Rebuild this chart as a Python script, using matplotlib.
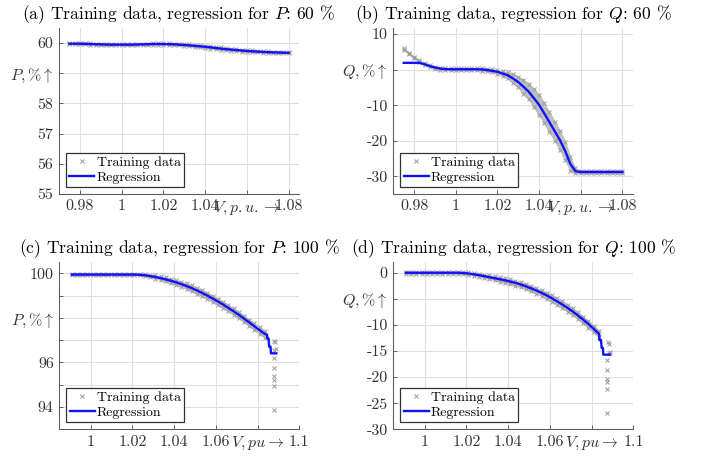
import matplotlib
matplotlib.use("Agg")
import matplotlib.pyplot as plt

plt.rcParams['font.family'] = 'serif'
plt.rcParams['font.serif'] = ['cmr10']
plt.rcParams['mathtext.fontset'] = 'cm'
plt.rcParams['axes.unicode_minus'] = False

# ---- (a) P, 60 % ----
v_ab = [0.975, 0.9775, 0.98, 0.9825, 0.985, 0.9875, 0.99, 0.9925, 0.995, 0.9975,
        1.0, 1.0025, 1.005, 1.0075, 1.01, 1.0125, 1.015, 1.0175, 1.02, 1.0225,
        1.025, 1.0275, 1.03, 1.0325, 1.035, 1.0375, 1.04, 1.0425, 1.045, 1.0475,
        1.05, 1.0525, 1.055, 1.0575, 1.06, 1.0625, 1.065, 1.0675, 1.07, 1.0725,
        1.075, 1.0775, 1.08]
p60_reg = [59.98, 59.98, 59.98, 59.975, 59.97, 59.965, 59.96, 59.955, 59.95, 59.95,
           59.95, 59.95, 59.95, 59.955, 59.96, 59.965, 59.97, 59.97, 59.97, 59.965,
           59.96, 59.95, 59.94, 59.925, 59.91, 59.895, 59.88, 59.86, 59.84, 59.82,
           59.80, 59.785, 59.77, 59.755, 59.74, 59.73, 59.72, 59.71, 59.70, 59.695,
           59.69, 59.685, 59.68]
p60_hi = [59.99, 60.0, 60.0, 59.995, 59.99, 59.985, 59.98, 59.975, 59.97, 59.97,
          59.97, 59.97, 59.97, 59.975, 59.98, 59.985, 59.99, 59.99, 59.99, 59.99,
          59.985, 59.98, 59.97, 59.96, 59.95, 59.935, 59.92, 59.90, 59.88, 59.86,
          59.84, 59.82, 59.80, 59.785, 59.77, 59.76, 59.75, 59.74, 59.73, 59.72,
          59.71, 59.70, 59.695]
p60_lo = [59.965, 59.965, 59.96, 59.955, 59.95, 59.945, 59.94, 59.935, 59.93, 59.93,
          59.93, 59.93, 59.93, 59.935, 59.94, 59.945, 59.95, 59.95, 59.95, 59.945,
          59.94, 59.93, 59.915, 59.895, 59.875, 59.855, 59.84, 59.82, 59.80, 59.78,
          59.765, 59.75, 59.735, 59.72, 59.71, 59.70, 59.69, 59.685, 59.68, 59.675,
          59.67, 59.665, 59.66]

# ---- (b) Q, 60 % ----
q60_reg = [1.9, 1.9, 1.9, 1.9, 1.5, 1.0, 0.6, 0.3, 0.15, 0.1,
           0.1, 0.1, 0.1, 0.1, 0.1, 0.05, -0.1, -0.35, -0.6, -1.1,
           -1.6, -2.5, -3.5, -4.8, -6.2, -8.0, -9.9, -12.3, -14.8, -17.3,
           -19.8, -22.8, -26.5, -28.6, -28.8, -28.8, -28.8, -28.8, -28.8, -28.8,
           -28.8, -28.8, -28.8]
q60_hi = [6.0, 4.8, 3.6, 2.6, 1.8, 1.2, 0.8, 0.5, 0.4, 0.35,
          0.35, 0.35, 0.35, 0.35, 0.35, 0.35, 0.25, 0.1, -0.2, -0.4,
          -0.8, -1.2, -2.0, -2.8, -4.0, -5.4, -7.1, -9.5, -12.0, -14.6,
          -17.2, -20.3, -24.5, -27.8, -28.4, -28.4, -28.4, -28.4, -28.4, -28.4,
          -28.4, -28.4, -28.4]
q60_lo = [5.6, 4.4, 3.2, 2.2, 1.3, 0.8, 0.3, 0.0, -0.15, -0.2,
          -0.2, -0.2, -0.2, -0.2, -0.2, -0.3, -0.5, -0.8, -1.1, -1.8,
          -2.5, -3.8, -5.0, -6.8, -8.4, -10.6, -12.7, -15.1, -17.6, -20.0,
          -22.6, -25.4, -28.4, -29.2, -29.2, -29.2, -29.2, -29.2, -29.2, -29.2,
          -29.2, -29.2, -29.2]

# ---- (c), (d) 100 % ----
v_cd = [0.991, 0.9935, 0.996, 0.9985, 1.001, 1.0035, 1.006, 1.0085, 1.011, 1.0135,
        1.016, 1.0185, 1.021, 1.0235, 1.026, 1.0285, 1.031, 1.0335, 1.036, 1.0385,
        1.041, 1.0435, 1.046, 1.0485, 1.051, 1.0535, 1.056, 1.0585, 1.061, 1.0635,
        1.066, 1.0685, 1.071, 1.0735, 1.076, 1.0785, 1.081, 1.0835]
p100_reg = [99.95, 99.95, 99.95, 99.95, 99.95, 99.95, 99.95, 99.95, 99.95, 99.95,
            99.95, 99.95, 99.95, 99.94, 99.92, 99.88, 99.84, 99.79, 99.73, 99.67,
            99.60, 99.52, 99.43, 99.34, 99.23, 99.12, 99.00, 98.87, 98.74, 98.60,
            98.45, 98.30, 98.14, 97.97, 97.80, 97.62, 97.45, 97.28]
p100_hi = [99.98, 99.98, 99.98, 99.98, 99.98, 99.98, 99.98, 99.98, 99.98, 99.98,
           99.98, 99.98, 99.98, 99.98, 99.97, 99.94, 99.91, 99.87, 99.82, 99.77,
           99.70, 99.63, 99.55, 99.46, 99.36, 99.25, 99.13, 99.00, 98.87, 98.73,
           98.58, 98.43, 98.27, 98.10, 97.93, 97.76, 97.58, 97.42]
p100_lo = [99.92, 99.92, 99.92, 99.92, 99.92, 99.92, 99.92, 99.92, 99.92, 99.92,
           99.92, 99.92, 99.92, 99.91, 99.88, 99.83, 99.77, 99.71, 99.64, 99.57,
           99.49, 99.40, 99.30, 99.20, 99.09, 98.97, 98.85, 98.72, 98.59, 98.45,
           98.30, 98.15, 97.99, 97.82, 97.65, 97.47, 97.30, 97.12]
v_c_tail = [1.0835, 1.0845, 1.0847, 1.0853, 1.0855, 1.0862, 1.0864, 1.089]
p100_tail = [97.28, 97.25, 97.07, 97.07, 96.71, 96.71, 96.41, 96.41]
v_c_out = [1.0877, 1.0885, 1.0889, 1.0880, 1.0877, 1.0877, 1.0877, 1.0878, 1.0877, 1.0877]
p100_out = [96.95, 96.90, 96.60, 96.55, 96.18, 95.77, 95.38, 95.23, 94.93, 93.88]

q100_reg = [0.0, 0.0, 0.0, 0.0, 0.0, 0.0, 0.0, 0.0, 0.0, 0.0,
            0.0, -0.05, -0.15, -0.3, -0.45, -0.65, -0.85, -1.05, -1.25, -1.45,
            -1.7, -1.95, -2.25, -2.6, -3.0, -3.4, -3.85, -4.35, -4.9, -5.5,
            -6.1, -6.75, -7.45, -8.2, -9.0, -9.85, -10.75, -11.7]
q100_hi = [0.15, 0.15, 0.15, 0.15, 0.15, 0.15, 0.15, 0.15, 0.15, 0.15,
           0.15, 0.1, 0.05, -0.1, -0.2, -0.35, -0.5, -0.7, -0.85, -1.05,
           -1.25, -1.5, -1.8, -2.1, -2.5, -2.9, -3.35, -3.8, -4.35, -4.9,
           -5.5, -6.15, -6.85, -7.6, -8.4, -9.25, -10.15, -11.1]
q100_lo = [-0.15, -0.15, -0.15, -0.15, -0.15, -0.15, -0.15, -0.15, -0.15, -0.15,
           -0.15, -0.25, -0.4, -0.55, -0.75, -0.95, -1.2, -1.45, -1.7, -1.95,
           -2.2, -2.5, -2.8, -3.15, -3.55, -4.0, -4.45, -5.0, -5.55, -6.15,
           -6.8, -7.45, -8.15, -8.9, -9.7, -10.55, -11.45, -12.4]
v_d_tail = [1.0835, 1.0837, 1.0837, 1.0845, 1.0848, 1.0854, 1.0856, 1.0888]
q100_tail = [-11.7, -11.9, -12.9, -12.9, -14.4, -14.4, -15.7, -15.7]
v_d_out = [1.0877, 1.0885, 1.0889, 1.0882, 1.0875, 1.0875, 1.0875, 1.0876, 1.0875, 1.0875]
q100_out = [-13.2, -13.6, -15.1, -15.4, -16.8, -18.6, -20.4, -21.0, -22.3, -26.9]

titles = ["(a) Training data, regression for $P$: 60 %",
          "(b) Training data, regression for $Q$: 60 %",
          "(c) Training data, regression for $P$: 100 %",
          "(d) Training data, regression for $Q$: 100 %"]

fig = plt.figure(figsize=(7.01, 4.58), dpi=100)
pos = [[0.0842, 0.5764, 0.3424, 0.3624],
       [0.5611, 0.5764, 0.3415, 0.3624],
       [0.0846, 0.0627, 0.3424, 0.3646],
       [0.5611, 0.0627, 0.3424, 0.3646]]
axs = [fig.add_axes(p) for p in pos]

GRAY = '#999999'
BLUE = '#1010ff'


def draw(ax, vt, hi, lo, vr, reg, vo=None, out=None):
    # dense cloud of training points -> grey band with crosses on top
    ax.fill_between(vt, lo, hi, color='#bfbfbf', lw=0.8, edgecolor='#bfbfbf', zorder=1)
    ax.plot(vt, hi, 'x', color=GRAY, ms=3, mew=0.7, label='Training data', zorder=2)
    ax.plot(vt, lo, 'x', color=GRAY, ms=3, mew=0.7, zorder=2)
    if vo is not None:
        ax.plot(vo, out, 'x', color=GRAY, ms=3, mew=0.7, zorder=2)
    ax.plot(vr, reg, '-', color=BLUE, lw=1.7, label='Regression', zorder=3)


draw(axs[0], v_ab, p60_hi, p60_lo, v_ab, p60_reg)
draw(axs[1], v_ab, q60_hi, q60_lo, v_ab, q60_reg)
draw(axs[2], v_cd, p100_hi, p100_lo, v_cd + v_c_tail, p100_reg + p100_tail, v_c_out, p100_out)
draw(axs[3], v_cd, q100_hi, q100_lo, v_cd + v_d_tail, q100_reg + q100_tail, v_d_out, q100_out)

axs[0].set_xlim(0.97, 1.085)
axs[0].set_ylim(55, 60.5)
axs[0].set_xticks([0.98, 1, 1.02, 1.04, 1.06, 1.08])
axs[0].set_xticklabels(['0.98', '1', '1.02', '1.04', r'$V, p.u. \rightarrow$', '1.08'])
axs[0].set_yticks([55, 56, 57, 58, 59, 60])
axs[0].set_yticklabels(['55', '56', '57', '58', r'$P, \%\uparrow$', '60'])

axs[1].set_xlim(0.97, 1.085)
axs[1].set_ylim(-35, 11.7)
axs[1].set_xticks([0.98, 1, 1.02, 1.04, 1.06, 1.08])
axs[1].set_xticklabels(['0.98', '1', '1.02', '1.04', r'$V, p.u. \rightarrow$', '1.08'])
axs[1].set_yticks([-30, -20, -10, 0, 10])
axs[1].set_yticklabels(['-30', '-20', '-10', r'$Q, \%\uparrow$', '10'])

axs[2].set_xlim(0.985, 1.1)
axs[2].set_ylim(93, 100.5)
axs[2].set_xticks([1, 1.02, 1.04, 1.06, 1.08, 1.1])
axs[2].set_xticklabels(['1', '1.02', '1.04', '1.06', r'$V, pu \rightarrow$', '1.1'])
axs[2].set_yticks([94, 95, 96, 97, 98, 99, 100])
axs[2].set_yticklabels(['94', '', '96', '', r'$P, \%\uparrow$', '', '100'])

axs[3].set_xlim(0.985, 1.1)
axs[3].set_ylim(-30, 2)
axs[3].set_xticks([1, 1.02, 1.04, 1.06, 1.08, 1.1])
axs[3].set_xticklabels(['1', '1.02', '1.04', '1.06', r'$V, pu \rightarrow$', '1.1'])
axs[3].set_yticks([-30, -25, -20, -15, -10, -5, 0])
axs[3].set_yticklabels(['-30', '-25', '-20', '-15', '-10', r'$Q, \%\uparrow$', '0'])

for ax, t in zip(axs, titles):
    ax.set_title(t, fontsize=12.6, pad=6.5)
    ax.grid(True, color='#e0e0e0', lw=0.8)
    ax.set_axisbelow(True)
    for s in ['top', 'right']:
        ax.spines[s].set_visible(False)
    for s in ['left', 'bottom']:
        ax.spines[s].set_color('#606060')
        ax.spines[s].set_linewidth(0.8)
    ax.tick_params(direction='in', length=3, width=0.7, color='#606060',
                   labelsize=11.5, labelcolor='#333333', pad=4)
    leg = ax.legend(loc='lower left', fontsize=10, fancybox=False, framealpha=1,
                    edgecolor='#333333', borderpad=0.25, labelspacing=0.15,
                    handlelength=1.8, handletextpad=0.15, borderaxespad=0.5)
    leg.get_frame().set_linewidth(0.9)

fig.savefig('out.png', dpi=100)
